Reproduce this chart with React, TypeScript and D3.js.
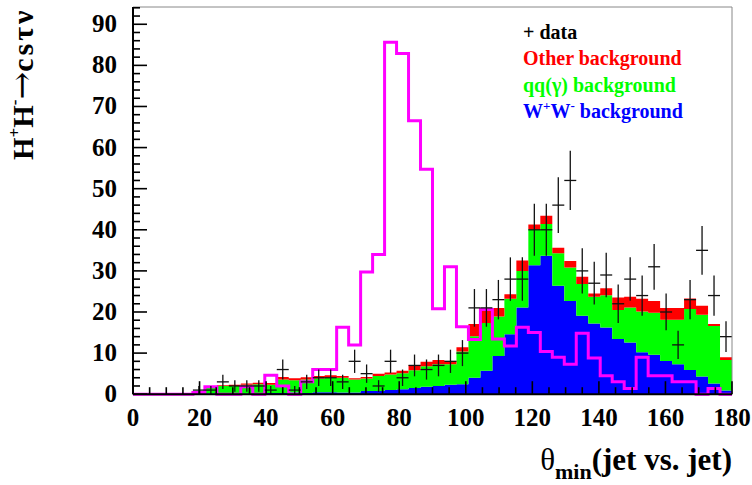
import React from 'react';
import * as d3 from 'd3';

// 50 bins of 3.6 degrees between 0 and 180
const binEdges = d3.range(51).map(i => i * 3.6);

const wwBkg = [0, 0, 0, 0, 0, 0.1, 0.2, 0.3, 0.2, 0.2, 0.3, 0.3, 0.3, 0.4, 0.3, 0.5, 0.5, 0.4, 0.4, 0.8,
  0.8, 1.0, 1.2, 1.5, 1.8, 2.0, 2.3, 2.4, 4.0, 5.7, 9.3, 14.6, 21.1, 31.4, 33.7, 26.4, 22.7, 19.1, 17.2, 16.2,
  13.4, 12.6, 10.2, 9.6, 8.1, 7.3, 5.9, 4.3, 2.6, 0.9];
const qqBkg = [0, 0, 0, 0, 0, 0.5, 1.5, 1.7, 1.8, 2.1, 2.1, 2.0, 3.3, 3.0, 3.3, 3.3, 3.5, 3.6, 3.2, 3.0,
  3.6, 3.8, 3.9, 4.3, 5.0, 5.3, 5.0, 8.0, 10.1, 11.6, 9.6, 8.6, 8.9, 8.7, 7.7, 7.9, 8.1, 7.7, 6.5, 7.9,
  7.1, 8.5, 9.9, 10.2, 10.0, 10.8, 14.8, 15.0, 14.0, 7.4];
const otherBkg = [0, 0, 0, 0, 0, 0.1, 0.2, 0.2, 0.3, 0.3, 0.4, 0.4, 0.6, 0.5, 0.5, 0.6, 0.6, 0.4, 0.3, 0.4,
  0.6, 0.5, 0.6, 1.3, 1.1, 1.0, 0.8, 1.0, 3.0, 3.2, 2.1, 1.1, 2.5, 1.2, 2.0, 1.3, 1.6, 1.8, 0.8, 1.7,
  3.0, 2.6, 3.1, 2.9, 2.9, 2.9, 2.6, 2.2, 0.5, 0.7];
const signal = [0, 0, 0, 0, 0, 0.4, 1.8, 0, 0, 1.8, 0, 4.6, 2.0, 0, 3.0, 6.0, 6.0, 16.3, 12.0, 29.7,
  34.0, 85.6, 82.9, 66.5, 54.7, 20.8, 31.0, 16.4, 13.3, 20.6, 13.4, 11.7, 16.3, 15.0, 10.4, 9.0, 7.3, 14.8, 8.8, 4.5,
  3.0, 1.4, 9.0, 4.5, 4.5, 3.0, 3.0, 0, 1.4, 0];
const dataCounts = [0, 0, 0, 0, 0, 1, 1, 3, 2, 2, 2, 1, 6, 1, 3, 4, 4, 3, 8, 5,
  2, 8, 4, 7, 6, 7, 8, 10, 21, 21, 23, 28, 28, 40, 40, 46, 52, 30, 27, 29,
  22, 28, 24, 31, 20, 12, 23, 35, 24, 14];

const xTicks = d3.range(0, 181, 20);
const yTicks = d3.range(0, 91, 10);
const layerColors = ['#0000ff', '#00ff00', '#ff0000'];
const FONT = '"Liberation Serif", "Times New Roman", serif';

const App: React.FC = () => {
  const width = 752;
  const height = 485;
  const left = 133, right = 732, top = 7, bottom = 394.2;

  const x = d3.scaleLinear().domain([0, 180]).range([left, right]);
  const y = d3.scaleLinear().domain([0, 94.2]).range([bottom, top]);

  const rows = wwBkg.map((w, i) => ({ ww: w, qq: qqBkg[i], other: otherBkg[i] }));
  const stacked = d3.stack<{ ww: number; qq: number; other: number }>().keys(['ww', 'qq', 'other'])(rows);

  type Pt = { x: number; y0: number; y1: number };
  const area = d3.area<Pt>().x(d => x(d.x)).y0(d => y(d.y0)).y1(d => y(d.y1));
  const layerPaths = stacked.map(layer => {
    const pts: Pt[] = [];
    layer.forEach((s, i) => {
      pts.push({ x: binEdges[i], y0: s[0], y1: s[1] });
      pts.push({ x: binEdges[i + 1], y0: s[0], y1: s[1] });
    });
    return area(pts) || '';
  });

  const stepPts: [number, number][] = [];
  signal.forEach((v, i) => {
    stepPts.push([binEdges[i], v]);
    stepPts.push([binEdges[i + 1], v]);
  });
  const sigPath = d3.line<[number, number]>().x(d => x(d[0])).y(d => y(d[1]))(stepPts) || '';

  const minorX = d3.range(0, 181, 5);
  const minorY = d3.range(0, 95, 2);

  return (
    <svg width={width} height={height} style={{ position: 'absolute', left: 0, top: 0 }} fontFamily={FONT}>
      <rect x={0} y={0} width={width} height={height} fill="#fff" />
      {layerPaths.map((d, i) => (
        <path key={i} d={d} fill={layerColors[i]} stroke="none" />
      ))}
      <path d={sigPath} fill="none" stroke="#ff00ff" strokeWidth={3} />
      {dataCounts.map((n, i) => {
        if (n <= 0) return null;
        const cx = x((binEdges[i] + binEdges[i + 1]) / 2);
        const e = Math.sqrt(n);
        return (
          <g key={i} stroke="#111" strokeWidth={1.3}>
            <line x1={x(binEdges[i])} x2={x(binEdges[i + 1])} y1={y(n)} y2={y(n)} />
            <line x1={cx} x2={cx} y1={y(n - e)} y2={y(n + e)} />
          </g>
        );
      })}
      {/* frame */}
      <line x1={left} x2={right} y1={top} y2={top} stroke="#888" strokeWidth={1} />
      <line x1={right} x2={right} y1={top} y2={bottom} stroke="#888" strokeWidth={1} />
      <line x1={left} x2={right} y1={bottom} y2={bottom} stroke="#000" strokeWidth={2} />
      <line x1={left} x2={left} y1={top} y2={bottom} stroke="#000" strokeWidth={2} />
      {minorX.map(t => (
        <line key={'mx' + t} x1={x(t)} x2={x(t)} y1={bottom} y2={bottom - (t % 20 === 0 ? 13 : 7)} stroke="#000" strokeWidth={1.6} />
      ))}
      {minorY.map(t => (
        <line key={'my' + t} x1={left} x2={left + (t % 10 === 0 ? 14 : 7)} y1={y(t)} y2={y(t)} stroke="#000" strokeWidth={1.6} />
      ))}
      {xTicks.map(t => (
        <text key={'xl' + t} x={x(t)} y={426} textAnchor="middle" fontSize={25} fontWeight="bold">{t}</text>
      ))}
      {yTicks.map(t => (
        <text key={'yl' + t} x={117} y={y(t) + 8} textAnchor="end" fontSize={25} fontWeight="bold">{t}</text>
      ))}
      {/* axis titles */}
      <text x={732} y={470} textAnchor="end" fontSize={31} fontWeight="bold">
        <tspan fontWeight="normal">θ</tspan><tspan fontSize={22} dy={9}>min</tspan><tspan dy={-9}>(jet vs. jet)</tspan>
      </text>
      <text transform="translate(33,160) rotate(-90)" fontSize={29} fontWeight="bold">
        H<tspan fontSize={17} dy={-13}>+</tspan><tspan dy={13}>H</tspan><tspan fontSize={17} dy={-13}>-</tspan>
        <tspan dy={13} fontFamily='"DejaVu Serif", serif' fontWeight="normal" fontSize={33}>→</tspan>
        <tspan fontSize={30} letterSpacing={3}>csτν</tspan>
      </text>
      {/* legend */}
      <g fontSize={20} fontWeight="bold">
        <text x={523} y={39} fill="#000">+ data</text>
        <text x={523} y={65} fill="#ff0000">Other background</text>
        <text x={523} y={91.5} fill="#00ff00">qq(γ) background</text>
        <text x={523} y={118} fill="#0000ff">
          W<tspan fontSize={13} dy={-8}>+</tspan><tspan dy={8}>W</tspan><tspan fontSize={13} dy={-8}>-</tspan><tspan dy={8}> background</tspan>
        </text>
      </g>
    </svg>
  );
};

export default App;
